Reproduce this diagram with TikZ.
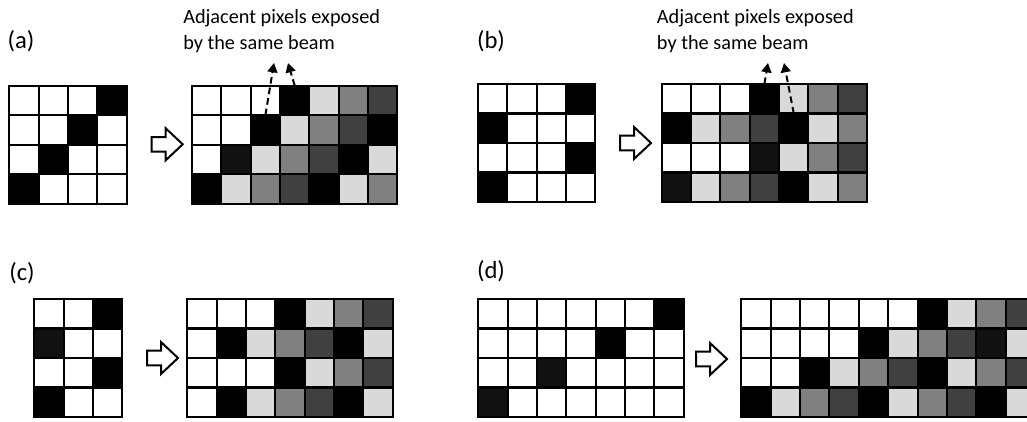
\documentclass[tikz,border=0pt]{standalone}
\usepackage{fontspec}
\setmainfont{Carlito}
\usetikzlibrary{arrows.meta}
\definecolor{pw}{HTML}{FFFFFF}
\definecolor{pb}{HTML}{000000}
\definecolor{pn}{HTML}{111111}
\definecolor{pl}{HTML}{D9D9D9}
\definecolor{pm}{HTML}{808080}
\definecolor{pd}{HTML}{404040}
\newcommand{\pixgrid}[4]{%
  \foreach \prow [count=\pri from 0] in {#4} {
    \foreach \pcol [count=\pki from 0] in \prow {
      \node[cell, fill=\pcol] (#1-\pri-\pki) at ({#2+\pki*29.35},{#3+\pri*29.5}) {};
    }
  }%
}
\newcommand{\blockarrow}[2]{%
  \draw[barrow] (#1,#2-7.3) -- ++(14,0) -- ++(0,-8.7) -- ++(17,16) -- ++(-17,16) -- ++(0,-8.7) -- ++(-14,0) -- cycle;%
}
\tikzset{
  cell/.style={draw=black, line width=1.5pt, anchor=north west, inner sep=0pt, outer sep=0pt,
    minimum width=22.01pt, minimum height=22.12pt},
  barrow/.style={draw=black, fill=white, line width=1.5pt, line join=miter},
  beam/.style={draw=black, line width=1.5pt, dash pattern=on 5pt off 3pt,
    -{Triangle[width=7.5pt,length=7pt]}},
  plabel/.style={font=\fontsize{18.5}{22}\selectfont, anchor=base, inner sep=0pt},
  note/.style={font=\fontsize{15.2}{18}\selectfont, anchor=base west, inner sep=0pt}
}
\begin{document}
\begin{tikzpicture}[x=0.75pt, y=-0.75pt]
\path[use as bounding box, clip] (0,0) rectangle (1027,421);
\fill[white] (0,0) rectangle (1027,421);

% labels
\node[plabel] (la) at (21,48) {(a)};
\node[plabel] (lb) at (491,48) {(b)};
\node[plabel] (lc) at (22,280.5) {(c)};
\node[plabel] (ld) at (491,278) {(d)};

\node[note] (na1) at (183,23.5) {Adjacent pixels exposed};
\node[note] (na2) at (183,49) {by the same beam};
\node[note] (nb1) at (656.7,23.5) {Adjacent pixels exposed};
\node[note] (nb2) at (656.7,49) {by the same beam};

% (a)
\pixgrid{a1}{9.3}{85.7}{{pw,pw,pw,pb},{pw,pw,pb,pw},{pw,pb,pw,pw},{pb,pw,pw,pw}}
\pixgrid{a2}{192}{85.7}{{pw,pw,pw,pb,pl,pm,pd},{pw,pw,pb,pl,pm,pd,pb},{pw,pn,pl,pm,pd,pb,pl},{pb,pl,pm,pd,pb,pl,pm}}
\blockarrow{151.7}{144.3}

% (b)
\pixgrid{b1}{478}{84}{{pw,pw,pw,pb},{pb,pw,pw,pw},{pw,pw,pw,pb},{pb,pw,pw,pw}}
\pixgrid{b2}{661.7}{84}{{pw,pw,pw,pb,pl,pm,pd},{pb,pl,pm,pd,pb,pl,pm},{pw,pw,pw,pn,pl,pm,pd},{pn,pl,pm,pd,pb,pl,pm}}
\blockarrow{620}{143}

% (c)
\pixgrid{c1}{34.3}{299}{{pw,pw,pb},{pn,pw,pw},{pw,pw,pb},{pb,pw,pw}}
\pixgrid{c2}{187.3}{299}{{pw,pw,pw,pb,pl,pm,pd},{pw,pb,pl,pm,pd,pb,pl},{pw,pw,pw,pb,pl,pm,pd},{pw,pb,pl,pm,pd,pb,pl}}
\blockarrow{147}{358}

% (d)
\pixgrid{d1}{478.3}{299}{{pw,pw,pw,pw,pw,pw,pb},{pw,pw,pw,pw,pb,pw,pw},{pw,pw,pn,pw,pw,pw,pw},{pn,pw,pw,pw,pw,pw,pw}}
\pixgrid{d2}{741.4}{299}{{pw,pw,pw,pw,pw,pw,pb,pl,pm,pd},{pw,pw,pw,pw,pb,pl,pm,pd,pn,pl},{pw,pw,pb,pl,pm,pd,pb,pl,pm,pd},{pb,pl,pm,pd,pb,pl,pm,pd,pb,pl}}
\blockarrow{696}{359}

% beams
\coordinate (ta1) at (274,63);
\coordinate (ta2) at (288,63);
\coordinate (tb1) at (768,63);
\coordinate (tb2) at (784,63);
\draw[beam] (a2-1-2.north) -- (ta1);
\draw[beam] (a2-0-3.north) -- (ta2);
\draw[beam] (b2-0-3.north) -- (tb1);
\draw[beam] (b2-1-4.north) -- (tb2);
\end{tikzpicture}
\end{document}
